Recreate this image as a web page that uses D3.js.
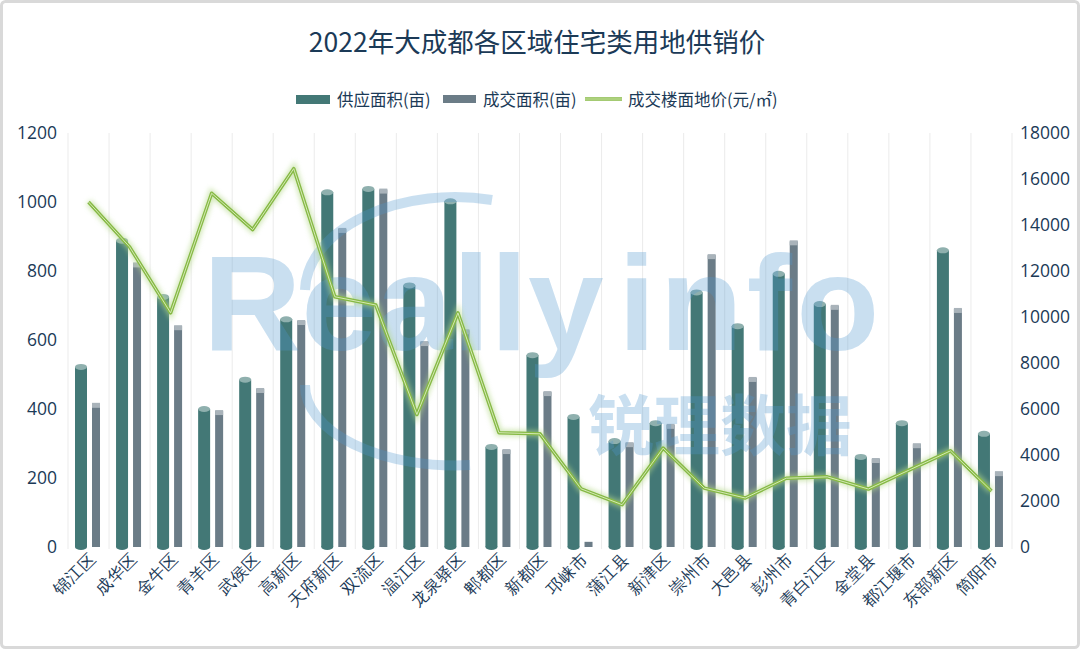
<!DOCTYPE html>
<html><head><meta charset="utf-8">
<script src="https://cdn.jsdelivr.net/npm/d3@7/dist/d3.min.js"></script>
<style>body{margin:0;background:#fff;}svg{display:block;font-family:"Noto Sans CJK SC","Noto Sans",sans-serif;}</style>
</head><body><svg id="c" width="1080" height="655"></svg>
<script>
const title = "2022年大成都各区域住宅类用地供销价";
const categories = ["锦江区","成华区","金牛区","青羊区","武侯区","高新区","天府新区","双流区","温江区","龙泉驿区","郫都区","新都区","邛崃市","蒲江县","新津区","崇州市","大邑县","彭州市","青白江区","金堂县","都江堰市","东部新区","简阳市"];
const supply = [522,888,725,400,485,660,1028,1038,758,1002,290,556,377,307,359,738,640,792,704,261,359,860,328];
const deal   = [415,822,640,394,458,655,922,1036,594,628,281,449,15,301,354,846,490,886,699,255,298,690,217];
const price  = [15000,13050,10180,15380,13800,16450,10880,10520,5760,10180,4970,4920,2530,1840,4300,2560,2130,2990,3050,2520,3350,4180,2440];
const leftTicks = [0,200,400,600,800,1000,1200];
const rightTicks = [0,2000,4000,6000,8000,10000,12000,14000,16000,18000];
const seriesNames = ["供应面积(亩)","成交面积(亩)","成交楼面地价(元/㎡)"];

const svg = d3.select("#c");
const W=1080,H=655;
const x0=68,x1=1012,yTop=133,yBot=547;
const textColor="#1b3a57";

svg.append("rect").attr("x",1.5).attr("y",1.5).attr("width",W-3).attr("height",H-9).attr("rx",4)
  .attr("fill","#fff").attr("stroke","#d9d9d9").attr("stroke-width",3);

const defs = svg.append("defs");
const f = defs.append("filter").attr("id","glow").attr("x","-5%").attr("y","-20%").attr("width","110%").attr("height","140%");
f.append("feGaussianBlur").attr("stdDeviation",2.5);

const x = d3.scaleBand().domain(categories).range([x0,x1]).padding(0);
const yL = d3.scaleLinear().domain([0,1200]).range([yBot,yTop]);
const yR = d3.scaleLinear().domain([0,18000]).range([yBot,yTop]);
const bw = x.bandwidth();

// title
svg.append("text").attr("x",537).attr("y",52).attr("text-anchor","middle")
  .attr("font-size",26.5).attr("fill",textColor).text(title);

// vertical gridlines
const g = svg.append("g");
g.selectAll("line.grid").data(d3.range(categories.length+1)).join("line")
  .attr("x1",i=>x0+i*bw).attr("x2",i=>x0+i*bw).attr("y1",yTop).attr("y2",yBot+2)
  .attr("stroke","#ebebeb").attr("stroke-width",1);

const numFont = "'Open Sans','Noto Sans','DejaVu Sans',sans-serif";
// left axis
const axL = d3.axisLeft(yL).tickValues(leftTicks).tickFormat(d3.format("d")).tickSize(0).tickPadding(11);
const gL = svg.append("g").attr("transform",`translate(${x0},0)`).call(axL);
gL.select(".domain").remove();
gL.selectAll("text").attr("font-size",17.5).attr("fill",textColor).attr("font-family",numFont);

const axR = d3.axisRight(yR).tickValues(rightTicks).tickFormat(d3.format("d")).tickSize(0).tickPadding(8);
const gR = svg.append("g").attr("transform",`translate(${x1},0)`).call(axR);
gR.select(".domain").remove();
gR.selectAll("text").attr("font-size",17.5).attr("fill",textColor).attr("font-family",numFont);

// bottom axis labels
const axB = d3.axisBottom(x).tickSize(0).tickPadding(0);
const gB = svg.append("g").attr("transform",`translate(0,${yBot})`).call(axB);
gB.select(".domain").remove();
gB.selectAll("text").attr("font-size",16.5).attr("fill",textColor)
  .attr("text-anchor","end").attr("dy",0)
  .attr("transform","translate(8,13) rotate(-45)");

// supply bars (cylinder)
const sw=12, soff=13;
const sg = svg.append("g");
categories.forEach((c,i)=>{
  const cx = x(c)+soff;
  const yt = yL(supply[i]);
  sg.append("rect").attr("x",cx-sw/2).attr("y",yt).attr("width",sw).attr("height",yBot-yt).attr("fill","#437876");
  sg.append("ellipse").attr("cx",cx).attr("cy",yBot).attr("rx",sw/2).attr("ry",3).attr("fill","#437876");
  sg.append("ellipse").attr("cx",cx).attr("cy",yt).attr("rx",sw/2).attr("ry",3).attr("fill","#8fb0ae");
});
// deal bars
const dw=8, doff=28;
const dg = svg.append("g");
categories.forEach((c,i)=>{
  const cx = x(c)+doff;
  const yt = yL(deal[i]);
  dg.append("rect").attr("x",cx-dw/2).attr("y",yt).attr("width",dw).attr("height",yBot-yt).attr("fill","#6b7c87");
  if (yBot-yt>8) dg.append("rect").attr("x",cx-dw/2).attr("y",yt-1).attr("width",dw).attr("height",5).attr("fill","#a9b3ba");
});

// watermark
const wm = svg.append("g").attr("opacity",0.3).attr("fill","#4f97cf").attr("pointer-events","none");
wm.append("text").attr("x",203).attr("y",350).attr("font-size",136).attr("font-weight","bold")
  .attr("font-family","'Liberation Sans',Arial,sans-serif").text("Really");
wm.append("text").attr("x",618).attr("y",350).attr("font-size",136).attr("font-weight","bold")
  .attr("font-family","'Liberation Sans',Arial,sans-serif").attr("letter-spacing",4).text("info");
wm.append("text").attr("x",588).attr("y",450).attr("font-size",66).attr("font-weight","bold").text("锐理数据");
wm.append("path").attr("d","M 305 290 A 150 95 0 0 1 492 200").attr("fill","none").attr("stroke","#4f97cf").attr("stroke-width",10);
wm.append("path").attr("d","M 305 385 A 150 80 0 0 0 470 465").attr("fill","none").attr("stroke","#4f97cf").attr("stroke-width",10);

// price line
const line = d3.line().x((d,i)=>x(categories[i])+bw/2).y(d=>yR(d));
svg.append("path").datum(price).attr("d",line).attr("fill","none").attr("stroke","#b5d98a").attr("stroke-width",7).attr("opacity",0.6).attr("filter","url(#glow)");
svg.append("path").datum(price).attr("d",line).attr("fill","none").attr("stroke","#86b944").attr("stroke-width",3.5).attr("stroke-linejoin","round");
svg.append("path").datum(price).attr("d",line).attr("fill","none").attr("stroke","#d4e9b6").attr("stroke-width",1).attr("stroke-linejoin","round");

// legend
const lg = svg.append("g").attr("font-size",16.5).attr("fill",textColor);
lg.append("rect").attr("x",296).attr("y",95).attr("width",34).attr("height",9).attr("fill","#437876");
lg.append("text").attr("x",337).attr("y",106).text(seriesNames[0]);
lg.append("rect").attr("x",443).attr("y",95).attr("width",33).attr("height",8).attr("fill","#6b7c87");
lg.append("text").attr("x",483).attr("y",106).text(seriesNames[1]);
lg.append("line").attr("x1",585).attr("x2",622).attr("y1",99).attr("y2",99).attr("stroke","#86b944").attr("stroke-width",3.5);
lg.append("line").attr("x1",585).attr("x2",622).attr("y1",99).attr("y2",99).attr("stroke","#d4e9b6").attr("stroke-width",1);
lg.append("text").attr("x",628).attr("y",106).text(seriesNames[2]);
</script></body></html>
